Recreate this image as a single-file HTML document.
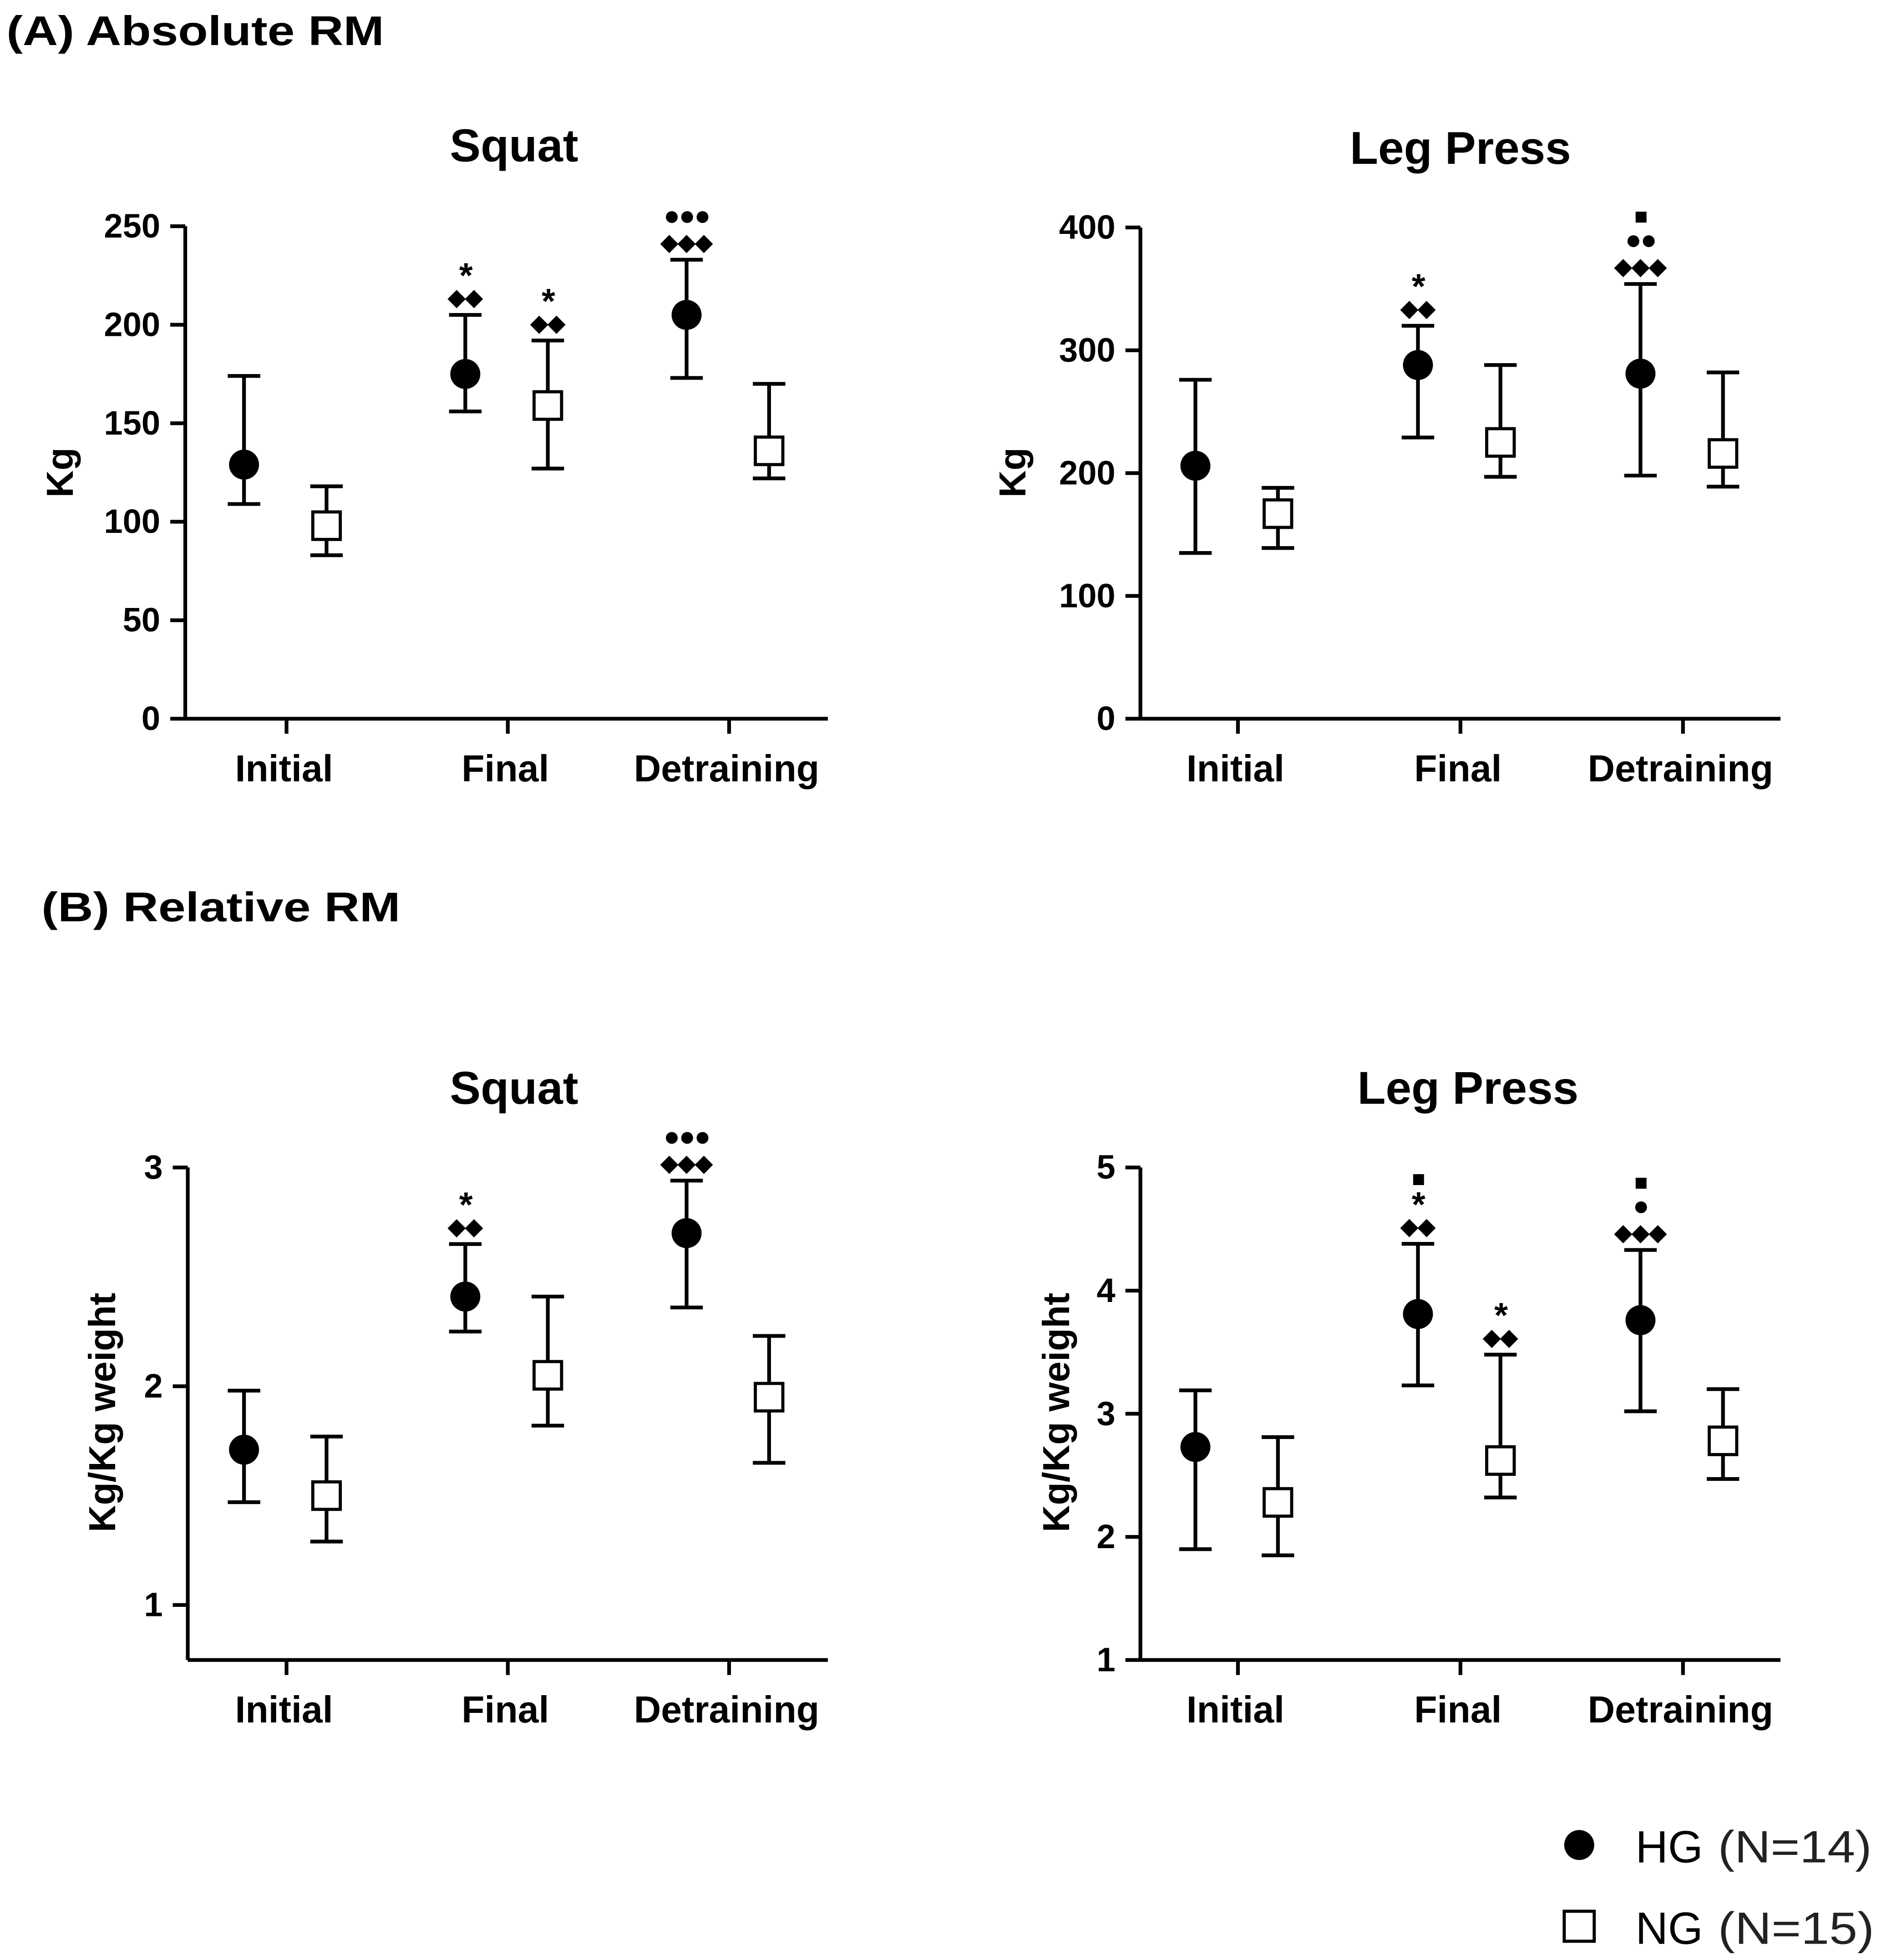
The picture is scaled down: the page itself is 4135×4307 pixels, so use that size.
<!DOCTYPE html>
<html><head><meta charset="utf-8"><style>
html,body{margin:0;padding:0;background:#fff}
svg{display:block}
text{font-family:"Liberation Sans",Arial,sans-serif}
</style></head><body>
<svg id="fig" width="4135" height="4307" viewBox="0 0 1505 1568" xmlns="http://www.w3.org/2000/svg">
<text x="5" y="36" font-size="33" font-weight="bold" textLength="302" lengthAdjust="spacingAndGlyphs">(A) Absolute RM</text>
<text x="33" y="737" font-size="33" font-weight="bold" textLength="287" lengthAdjust="spacingAndGlyphs">(B) Relative RM</text>
<g>
<circle cx="1263" cy="1476" r="12" fill="#000"/>
<text x="1308" y="1490" font-size="36">HG</text>
<text x="1374" y="1490" font-size="36" fill="#222" textLength="123" lengthAdjust="spacingAndGlyphs">(N=14)</text>
<rect x="1251" y="1529" width="24" height="24" fill="#fff" stroke="#000" stroke-width="2.5"/>
<text x="1308" y="1555" font-size="36">NG</text>
<text x="1374" y="1555" font-size="36" fill="#222" textLength="125" lengthAdjust="spacingAndGlyphs">(N=15)</text>
</g>
</svg>
<script>
const categories = ["Initial","Final","Detraining"];
// Panel A squat
const aSquatHG = [129,175,205], aSquatHGlo=[109,156,173], aSquatHGhi=[174,205,233];
const aSquatNG = [98,159,136], aSquatNGlo=[83,127,122], aSquatNGhi=[118,192,170];
const aSquatTicks = [0,50,100,150,200,250];
// Panel A leg press
const aLegHG = [206,288,281], aLegHGlo=[135,229,198], aLegHGhi=[276,320,354];
const aLegNG = [167,225,216], aLegNGlo=[139,197,189], aLegNGhi=[188,288,282];
const aLegTicks = [0,100,200,300,400];
// Panel B squat
const bSquatHG = [1.71,2.41,2.70], bSquatHGlo=[1.47,2.25,2.36], bSquatHGhi=[1.98,2.65,2.94];
const bSquatNG = [1.50,2.05,1.95], bSquatNGlo=[1.29,1.82,1.65], bSquatNGhi=[1.77,2.41,2.23];
const bSquatTicks = [1,2,3];
// Panel B leg press
const bLegHG = [2.73,3.81,3.76], bLegHGlo=[1.90,3.23,3.02], bLegHGhi=[3.19,4.38,4.33];
const bLegNG = [2.28,2.62,2.78], bLegNGlo=[1.85,2.32,2.47], bLegNGhi=[2.81,3.48,3.20];
const bLegTicks = [1,2,3,4,5];
// significance annotations (bottom row first)
const aSquatHGsig=[[],["◆◆","*"],["◆◆◆","●●●"]], aSquatNGsig=[[],["◆◆","*"],[]];
const aLegHGsig=[[],["◆◆","*"],["◆◆◆","●●","■"]], aLegNGsig=[[],[],[]];
const bSquatHGsig=[[],["◆◆","*"],["◆◆◆","●●●"]], bSquatNGsig=[[],[],[]];
const bLegHGsig=[[],["◆◆","*","■"],["◆◆◆","●","■"]], bLegNGsig=[[],["◆◆","*"],[]];

const NS="http://www.w3.org/2000/svg", svg=document.getElementById('fig');
function mk(tag,attrs,parent){const e=document.createElementNS(NS,tag);for(const k in attrs)e.setAttribute(k,attrs[k]);(parent||svg).appendChild(e);return e;}

function panel(p){
  const g=mk('g',{});
  
  
  const y=v=>p.y0px+(v-p.v0)*(p.y1px-p.y0px)/(p.v1-p.v0);
  const cx=i=>p.cats[i];
  mk('text',{x:p.titleX,y:p.titleY,'font-size':37,'font-weight':'bold','text-anchor':'middle'},g).textContent=p.title;
  const ax=mk('line',{x1:p.ax,x2:p.ax,y1:p.axBottom,y2:y(p.ticks[p.ticks.length-1]),stroke:'#000','stroke-width':3},g);
  
  const xa=mk('line',{x1:p.ax,x2:p.axRight,y1:p.axBottom,y2:p.axBottom,stroke:'#000','stroke-width':3},g);
  
  p.ticks.forEach(t=>{
    mk('line',{x1:p.ax-12,x2:p.ax,y1:y(t),y2:y(t),stroke:'#000','stroke-width':3},g);
    const tl=mk('text',{x:p.ax-20,y:y(t)+9,'font-size':27,'font-weight':'bold','text-anchor':'end'},g);
    tl.textContent=t;
    
  });
  categories.forEach((c,i)=>{
    mk('line',{x1:cx(i),x2:cx(i),y1:p.axBottom,y2:p.axBottom+12,stroke:'#000','stroke-width':3},g);
    const cl=mk('text',{x:cx(i)-2,y:p.axBottom+50,'font-size':30,'font-weight':'bold','text-anchor':'middle'},g);
    cl.textContent=c;
    
  });
  const yt=mk('text',{x:0,y:0,'font-size':30,'font-weight':'bold','text-anchor':'middle',transform:`translate(${p.ytX},${p.ytY}) rotate(-90)`},g);
  yt.textContent=p.ytitle;
  
  const series=[[p.hg,p.hglo,p.hghi,p.hgsig,-34,'hg'],[p.ng,p.nglo,p.nghi,p.ngsig,32,'ng']];
  series.forEach(([vals,lo,hi,sig,off,kind])=>{
    vals.forEach((v,i)=>{
      const x=cx(i)+off;
      mk('line',{x1:x,x2:x,y1:y(lo[i]),y2:y(hi[i]),stroke:'#000','stroke-width':3},g);
      mk('line',{x1:x-13,x2:x+13,y1:y(lo[i]),y2:y(lo[i]),stroke:'#000','stroke-width':3},g);
      mk('line',{x1:x-13,x2:x+13,y1:y(hi[i]),y2:y(hi[i]),stroke:'#000','stroke-width':3},g);
      let m;
      if(kind==='hg') m=mk('circle',{cx:x,cy:y(v),r:12,fill:'#000'},g);
      else m=mk('rect',{x:x-11,y:y(v)-11,width:22,height:22,fill:'#fff',stroke:'#000','stroke-width':2.5},g);
      
      let yy=y(hi[i])-8;
      sig[i].forEach(s=>{
        const fs=s==='*'?28:(s[0]==='●'?22:18);
        const t=mk('text',{x:x,y:s==='*'?yy+6:yy,'font-size':fs,'font-weight':'bold','text-anchor':'middle','letter-spacing':s[0]==='◆'?0:-1},g);
        t.textContent=s;
        
        yy-=s==='*'?18:20;
      });
    });
  });
}
panel({name:'chart-a-squat',title:'Squat',titleX:411,titleY:129,ax:148,axRight:662,axBottom:575,y0px:575,y1px:181,v0:0,v1:250,cats:[229,406,583],ticks:aSquatTicks,ytitle:'Kg',ytX:58,ytY:378,hg:aSquatHG,hglo:aSquatHGlo,hghi:aSquatHGhi,ng:aSquatNG,nglo:aSquatNGlo,nghi:aSquatNGhi,hgsig:aSquatHGsig,ngsig:aSquatNGsig});
panel({name:'chart-a-leg-press',title:'Leg Press',titleX:1168,titleY:131,ax:912,axRight:1424,axBottom:575,y0px:575,y1px:182,v0:0,v1:400,cats:[990,1168,1346],ticks:aLegTicks,ytitle:'Kg',ytX:820,ytY:378,hg:aLegHG,hglo:aLegHGlo,hghi:aLegHGhi,ng:aLegNG,nglo:aLegNGlo,nghi:aLegNGhi,hgsig:aLegHGsig,ngsig:aLegNGsig});
panel({name:'chart-b-squat',title:'Squat',titleX:411,titleY:883,ax:150,axRight:662,axBottom:1328,y0px:1284,y1px:934,v0:1,v1:3,cats:[229,406,583],ticks:bSquatTicks,ytitle:'Kg/Kg weight',ytX:92,ytY:1130,hg:bSquatHG,hglo:bSquatHGlo,hghi:bSquatHGhi,ng:bSquatNG,nglo:bSquatNGlo,nghi:bSquatNGhi,hgsig:bSquatHGsig,ngsig:bSquatNGsig});
panel({name:'chart-b-leg-press',title:'Leg Press',titleX:1174,titleY:883,ax:912,axRight:1424,axBottom:1328,y0px:1328,y1px:934,v0:1,v1:5,cats:[990,1168,1346],ticks:bLegTicks,ytitle:'Kg/Kg weight',ytX:855,ytY:1130,hg:bLegHG,hglo:bLegHGlo,hghi:bLegHGhi,ng:bLegNG,nglo:bLegNGlo,nghi:bLegNGhi,hgsig:bLegHGsig,ngsig:bLegNGsig});
</script>
</body></html>
